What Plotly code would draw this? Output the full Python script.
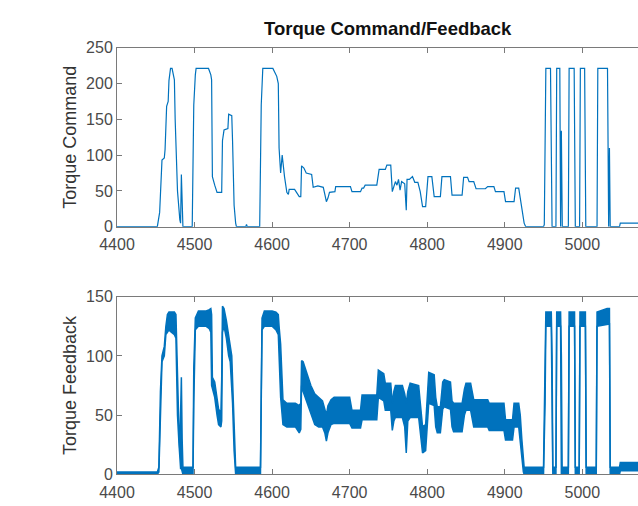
import plotly.graph_objects as go
from plotly.subplots import make_subplots

# ---------------- data ----------------
cmd_t = [4400, 4452, 4455, 4458, 4461, 4462, 4464, 4466, 4467, 4469, 4471, 4473, 4474, 4475,
         4478, 4481, 4482, 4483, 4484, 4485, 4497, 4499, 4501, 4502, 4518, 4521, 4522, 4523,
         4526, 4529, 4535, 4536, 4538, 4543, 4544, 4548, 4549, 4551, 4553, 4554, 4566, 4567,
         4568, 4584, 4586, 4588, 4601, 4606, 4608, 4609, 4611, 4613, 4616, 4619, 4621, 4622,
         4629, 4631, 4635, 4637, 4638, 4641, 4644, 4651, 4653, 4659, 4666, 4668, 4670, 4672,
         4674, 4681, 4682, 4701, 4703, 4714, 4716, 4718, 4720, 4735, 4738, 4746, 4748, 4753,
         4755, 4759, 4761, 4763, 4765, 4767, 4771, 4773, 4774, 4777, 4781, 4784, 4788, 4791,
         4794, 4798, 4801, 4806, 4809, 4817, 4819, 4830, 4832, 4845, 4847, 4852, 4854, 4860,
         4863, 4875, 4878, 4886, 4888, 4899, 4901, 4912, 4914, 4918, 4922, 4925, 4927, 4950,
         4951, 4953, 4959, 4961, 4966, 4967, 4971, 4972, 4973, 4973.4, 4973.8, 4974.2, 4982,
         4983, 4989.5, 4991, 4996.5, 4997.5, 5003, 5004.5, 5019, 5020, 5032.5, 5034, 5035,
         5035.3, 5035.6, 5036, 5048, 5049, 5075]
cmd_v = [0, 0, 20, 93, 96, 108, 168, 175, 204, 221, 221, 210, 205, 150,
         50, 10, 5, 73, 20, 0, 0, 170, 212, 221, 221, 212, 205, 70,
         58, 48, 48, 120, 135, 137, 157, 155, 120, 30, 5, 0, 0, 3,
         0, 0, 170, 221, 221, 210, 200, 110, 75, 100, 70, 48, 45, 52,
         52, 48, 42, 42, 85, 82, 75, 73, 55, 57, 55, 45, 35, 40,
         48, 49, 56, 56, 49, 49, 54, 54, 58, 58, 80, 80, 86, 86,
         49, 63, 58, 66, 51, 63, 60, 23, 66, 66, 70, 62, 62, 49,
         28, 28, 70, 70, 42, 42, 70, 70, 44, 44, 69, 69, 63, 63,
         53, 53, 56, 56, 49, 49, 35, 35, 54, 54, 23, 5, 0, 0,
         3, 221, 221, 0, 0, 221, 221, 0, 134, 0, 120, 0, 0,
         221, 221, 0, 0, 221, 221, 0, 0, 221, 221, 0, 110,
         0, 100, 0, 0, 5, 5]

fb_t = [4400, 4452, 4454, 4456, 4458, 4461, 4463, 4465, 4467, 4470, 4474, 4476, 4478, 4480,
        4481, 4482, 4483, 4484, 4485, 4496, 4498, 4499, 4501, 4505, 4515, 4519, 4521, 4522,
        4523, 4526, 4529, 4531, 4534, 4535, 4536, 4538, 4541, 4544, 4546, 4548, 4549, 4551,
        4553, 4585, 4586, 4587, 4590, 4600, 4605, 4608, 4609, 4611, 4614, 4619, 4630, 4635,
        4637, 4638, 4640, 4645, 4650, 4655, 4660, 4665, 4668, 4670, 4672, 4676, 4680, 4700,
        4703, 4714, 4716, 4735, 4737, 4744, 4746, 4753, 4755, 4757, 4759, 4768, 4771, 4773,
        4775, 4778, 4789, 4792, 4794, 4798, 4800, 4802, 4809, 4811, 4813, 4817, 4820, 4822,
        4830, 4832, 4834, 4845, 4848, 4850, 4856, 4858, 4860, 4878, 4880, 4899, 4901, 4910,
        4912, 4918, 4920, 4922, 4924, 4925, 4950, 4952, 4953, 4960, 4961, 4962, 4966, 4967,
        4972, 4973, 4974, 4982, 4983, 4990, 4991, 4996, 4997, 5004, 5005, 5018, 5019, 5032,
        5035, 5036, 5048, 5049, 5075]
fb_lo = [0, 0, 2, 60, 95, 100, 118, 120, 122, 120, 118, 115, 50, 25,
         10, 5, 5, 2, 0, 0, 0, 60, 122, 125, 125, 123, 120, 75,
         72, 65, 50, 42, 40, 45, 120, 125, 115, 100, 95, 75, 60, 20,
         0, 0, 60, 122, 125, 125, 122, 118, 100, 65, 42, 40, 40, 35,
         38, 75, 70, 60, 50, 42, 40, 40, 35, 28, 35, 42, 43, 43,
         39, 39, 46, 46, 65, 62, 54, 54, 37, 45, 48, 48, 40, 18,
         45, 48, 48, 30, 18, 20, 40, 60, 58, 40, 35, 35, 55, 57,
         55, 40, 36, 36, 50, 54, 54, 45, 40, 40, 37, 37, 29, 29,
         40, 40, 25, 12, 2, 0, 0, 60, 125, 125, 60, 0, 0, 125,
         125, 0, 0, 0, 125, 125, 0, 0, 125, 125, 0, 0, 125, 127,
         127, 0, 0, 3, 3]
fb_hi = [2, 2, 6, 70, 100, 108, 125, 135, 137, 137, 137, 135, 70, 35,
         20, 45, 82, 30, 6, 6, 6, 90, 132, 138, 138, 139, 140, 135,
         82, 78, 65, 55, 52, 80, 142, 140, 130, 118, 110, 100, 80, 40,
         6, 6, 100, 132, 138, 138, 137, 135, 125, 110, 63, 60, 60, 58,
         60, 96, 95, 85, 75, 68, 65, 62, 55, 50, 58, 63, 65, 65,
         54, 54, 67, 67, 88, 85, 77, 77, 60, 70, 75, 75, 68, 60,
         70, 77, 75, 55, 40, 42, 65, 86, 84, 65, 57, 57, 78, 80,
         78, 62, 60, 60, 72, 77, 77, 68, 63, 63, 60, 60, 46, 46,
         60, 60, 50, 30, 10, 6, 6, 100, 137, 137, 100, 6, 6, 137,
         137, 100, 6, 6, 137, 137, 6, 6, 137, 137, 6, 6, 137, 140,
         140, 6, 6, 10, 10]

x_ticks = [4400, 4500, 4600, 4700, 4800, 4900, 5000]
cmd_ticks = [0, 50, 100, 150, 200, 250]
fb_ticks = [0, 50, 100, 150]

# ---------------- figure ----------------
W, H = 638, 506
BLUE = "#0072BD"
FONT = "Liberation Sans, Arial, Helvetica, sans-serif"

fig = make_subplots(rows=2, cols=1)

fig.add_trace(go.Scatter(x=cmd_t, y=cmd_v, mode="lines",
                         line=dict(color=BLUE, width=1.2), showlegend=False,
                         hoverinfo="skip"), row=1, col=1)
fig.add_trace(go.Scatter(x=fb_t, y=fb_lo, mode="lines",
                         line=dict(color=BLUE, width=1.5), showlegend=False,
                         hoverinfo="skip"), row=2, col=1)
fig.add_trace(go.Scatter(x=fb_t, y=fb_hi, mode="lines", fill="tonexty",
                         fillcolor=BLUE,
                         line=dict(color=BLUE, width=1.5), showlegend=False,
                         hoverinfo="skip"), row=2, col=1)

px_per_unit = (582.3 - 117) / 600.0
x_max = 4400 + (W - 117) / px_per_unit

axis_common = dict(showline=True, linecolor="#7a7a7a", linewidth=1,
                   ticks="inside", ticklen=5, tickcolor="#7a7a7a",
                   showgrid=False, zeroline=False, automargin=False,
                   tickfont=dict(family=FONT, size=16, color="#4a4a4a"))

for r in (1, 2):
    fig.update_xaxes(range=[4400, x_max], tickvals=x_ticks, mirror="ticks",
                     ticklabelstandoff=3, **axis_common, row=r, col=1)

fig.update_yaxes(range=[0, 250], tickvals=cmd_ticks, mirror=False,
                 title=dict(text="Torque Command", standoff=4,
                            font=dict(family=FONT, size=18, color="#333333")),
                 **axis_common, row=1, col=1)
fig.update_yaxes(range=[0, 150], tickvals=fb_ticks, mirror=False,
                 title=dict(text="Torque Feedback", standoff=4,
                            font=dict(family=FONT, size=18, color="#333333")),
                 **axis_common, row=2, col=1)

fig.update_layout(
    width=W, height=H,
    margin=dict(l=117, r=0, t=0, b=0),
    paper_bgcolor="white", plot_bgcolor="white",
    xaxis=dict(domain=[0, 1]),
    xaxis2=dict(domain=[0, 1]),
    yaxis=dict(domain=[1 - 226.7 / H, 1 - 47.7 / H]),
    yaxis2=dict(domain=[1 - 474.3 / H, 1 - 296.7 / H]),
    annotations=[dict(text="<b>Torque Command/Feedback</b>", xref="paper", yref="paper",
                      x=(388 - 117) / (W - 117), y=1 - 28.5 / H,
                      xanchor="center", yanchor="middle", showarrow=False,
                      font=dict(family=FONT, size=18.5, color="#111111"))],
)

fig.write_html("out.html")
